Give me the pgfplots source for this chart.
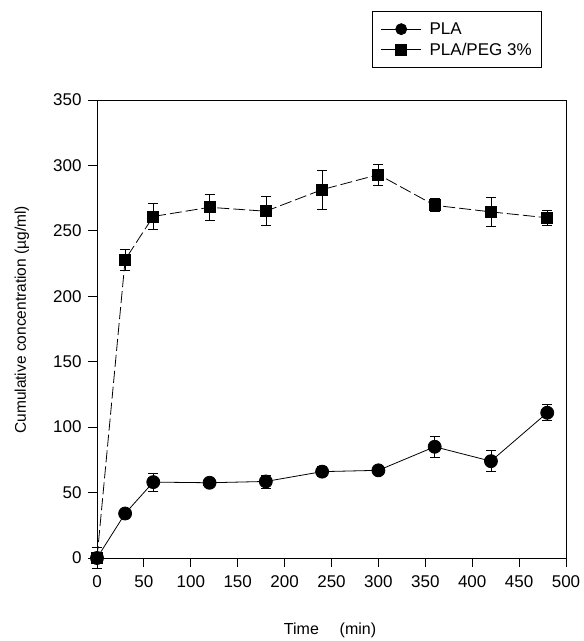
\documentclass[border=0pt]{standalone}
\usepackage{pgfplots}
\pgfplotsset{compat=1.18}
\usepackage{fontspec}
\setmainfont{Liberation Sans}
\begin{document}
\begin{tikzpicture}
\begin{axis}[
  scale only axis, width=469pt, height=458pt,
  xmin=0, xmax=500, ymin=0, ymax=350,
  xtick={0,50,...,500}, ytick={0,50,...,350},
  tick align=outside, tick pos=left,
  major tick length=9pt,
  /pgf/number format/assume math mode=true,
  tick label style={font=\fontsize{17}{19}\selectfont},
  xticklabel style={yshift=-5pt},
  yticklabel style={xshift=-3pt},
  xlabel={Time\hspace{1.3em}(min)},
  ylabel={Cumulative concentration (µg/ml)},
  every axis x label/.style={at={(axis description cs:0.497,-0.166)}, anchor=base, font=\fontsize{16}{18}\selectfont},
  every axis y label/.style={at={(axis description cs:-0.160,0.520)}, anchor=center, rotate=90, font=\fontsize{15.5}{18}\selectfont},
  clip=false,
  legend style={at={(0.949,1.194)}, anchor=north east, draw=black, line width=0.8pt,
    font=\fontsize{17}{20}\selectfont, inner xsep=8pt, inner ysep=9pt, row sep=3pt},
  legend cell align=left,
  legend image code/.code={\draw[solid, line width=0.8pt, mark repeat=2, mark phase=2, mark size=5.5pt]
     plot coordinates {(0pt,0pt) (20pt,0pt) (40pt,0pt)};
     \path (46pt,0pt);},
  every axis plot/.append style={line width=0.8pt},
  axis line style={line width=0.8pt},
  every tick/.style={black, line width=0.8pt},
]
\addplot[black, solid, mark=*, mark size=6.5pt, mark options={solid},
  error bars/.cd, y dir=both, y explicit, error mark options={rotate=90, mark size=5pt, line width=0.8pt}]
 coordinates {
 (0,0) +- (0,0)
 (30,34) +- (0,2)
 (60,58) +- (0,7)
 (120,57.5) +- (0,2)
 (180,58.5) +- (0,5)
 (240,66) +- (0,4)
 (300,67) +- (0,2)
 (360,85) +- (0,8)
 (420,74) +- (0,8)
 (480,111) +- (0,6)
 };
\addlegendentry{PLA}
\addplot[black, dash pattern=on 12pt off 4pt, mark=square*, mark size=5.5pt, mark options={solid},
  error bars/.cd, y dir=both, y explicit, error bar style={solid}, error mark options={rotate=90, mark size=5pt, line width=0.8pt, solid}]
 coordinates {
 (0,0) +- (0,8)
 (30,228) +- (0,8)
 (60,261) +- (0,10)
 (120,268) +- (0,10)
 (180,265) +- (0,11)
 (240,281.5) +- (0,15)
 (300,293) +- (0,8)
 (360,269.5) +- (0,5)
 (420,264.5) +- (0,11)
 (480,260) +- (0,6)
 };
\addlegendentry{PLA/PEG 3\%}
\end{axis}
\path (current axis.south west) ++(-97pt,-83pt) rectangle ++(580pt,641pt);
\end{tikzpicture}
\end{document}
